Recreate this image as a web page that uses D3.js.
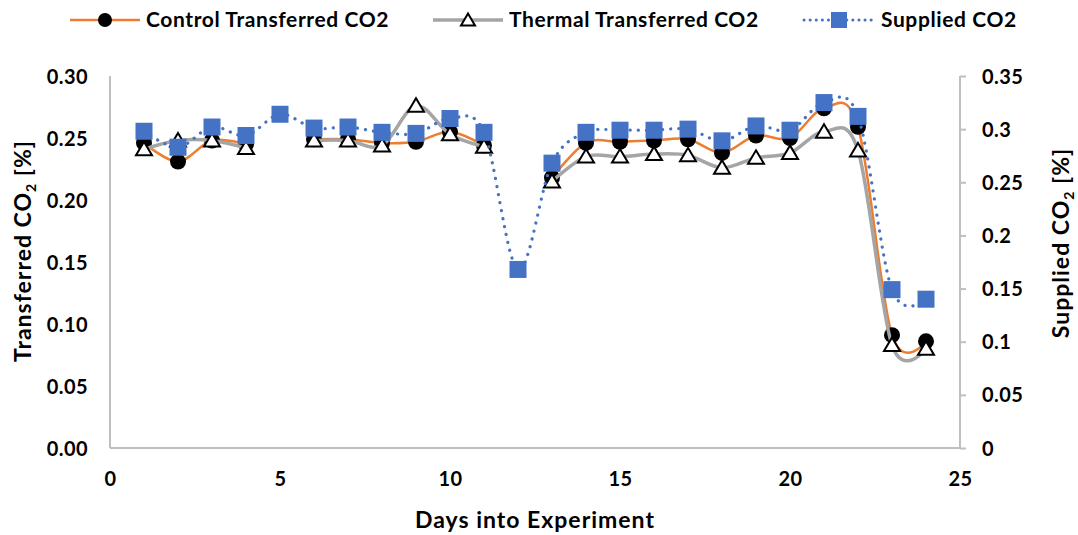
<!DOCTYPE html>
<html><head><meta charset="utf-8">
<script src="https://cdn.jsdelivr.net/npm/d3@7"></script>
<style>
body{margin:0;background:#fff;}
svg{display:block;font-family:Lato,"Open Sans",sans-serif;font-weight:bold;}
</style></head>
<body>
<svg id="c" width="1078" height="535"></svg>
<script>
const days = [1,2,3,4,5,6,7,8,9,10,11,12,13,14,15,16,17,18,19,20,21,22,23,24];
const controlCO2 = [0.246,0.231,0.248,0.245,null,0.249,0.249,0.246,0.247,0.255,0.244,null,0.218,0.246,0.247,0.248,0.249,0.238,0.252,0.250,0.274,0.259,0.091,0.086];
const thermalCO2 = [0.241,0.248,0.248,0.242,null,0.248,0.248,0.244,0.276,0.253,0.243,null,0.215,0.235,0.235,0.237,0.236,0.226,0.234,0.238,0.255,0.240,0.083,0.080];
const suppliedCO2 = [0.298,0.283,0.302,0.294,0.314,0.301,0.302,0.297,0.296,0.310,0.297,0.168,0.268,0.297,0.299,0.299,0.300,0.289,0.303,0.299,0.325,0.312,0.149,0.140];
const xTicks = [0,5,10,15,20,25];
const leftTicks = [0,0.05,0.10,0.15,0.20,0.25,0.30];
const rightTicks = [0,0.05,0.1,0.15,0.2,0.25,0.3,0.35];
const seriesNames = ["Control Transferred CO2","Thermal Transferred CO2","Supplied CO2"];

const svg = d3.select("#c");
const x = d3.scaleLinear().domain([0,25]).range([110,960]);
const yL = d3.scaleLinear().domain([0,0.30]).range([448,76]);
const yR = d3.scaleLinear().domain([0,0.35]).range([448,76]);
const axisColor = "#BFBFBF";
const orange = "#ED7D31", gray = "#A5A5A5", blue = "#4472C4";

// axes
const gL = svg.append("g").attr("transform","translate(110,0)")
  .call(d3.axisLeft(yL).tickValues(leftTicks).tickSize(0).tickPadding(22).tickFormat(d3.format(".2f")));
const gR = svg.append("g").attr("transform","translate(960,0)")
  .call(d3.axisRight(yR).tickValues(rightTicks).tickSize(6).tickPadding(16).tickFormat(d=>String(+d.toFixed(2))));
const gB = svg.append("g").attr("transform","translate(0,448)")
  .call(d3.axisBottom(x).tickValues(xTicks).tickSize(0).tickPadding(24).tickFormat(d3.format("d")));
[gL,gR,gB].forEach(g=>{
  g.selectAll("path.domain").attr("stroke",axisColor).attr("stroke-width",2);
  g.selectAll("line").attr("stroke",axisColor).attr("stroke-width",2);
  g.selectAll("text").attr("fill","#000").attr("font-size",20).attr("letter-spacing",0.4)
    .attr("font-family","Lato, 'Open Sans', sans-serif").attr("font-weight","bold");
});
gB.select("path.domain").attr("d","M110,0H960");
gL.select("path.domain").attr("d","M0,448V76");
gR.select("path.domain").attr("d","M0,448V76");
gR.selectAll("text").attr("dy","0.35em");
gL.selectAll("text").attr("dy","0.35em");

// axis titles
svg.append("text").attr("x",535).attr("y",528).attr("text-anchor","middle")
  .attr("font-size",23).attr("letter-spacing",1).text("Days into Experiment");
const tl = svg.append("text").attr("transform","translate(31,251) rotate(-90)").attr("text-anchor","middle").attr("font-size",23).attr("letter-spacing",1);
tl.append("tspan").text("Transferred CO");
tl.append("tspan").attr("font-size",14).attr("dy",5).text("2");
tl.append("tspan").attr("dy",-5).text(" [%]");
const tr = svg.append("text").attr("transform","translate(1069,243) rotate(-90)").attr("text-anchor","middle").attr("font-size",23).attr("letter-spacing",1);
tr.append("tspan").text("Supplied CO");
tr.append("tspan").attr("font-size",14).attr("dy",5).text("2");
tr.append("tspan").attr("dy",-5).text(" [%]");

const curve = d3.curveCatmullRom.alpha(0);
function pts(vals){ return days.map((d,i)=>({d, v: vals[i]})); }
const triPath = "M0,-7.5L8,6L-8,6Z";

// control
const cData = pts(controlCO2);
svg.append("path").datum(cData).attr("fill","none").attr("stroke",orange).attr("stroke-width",2.5)
  .attr("d", d3.line().defined(p=>p.v!=null).x(p=>x(p.d)).y(p=>yL(p.v)).curve(curve));
svg.append("g").selectAll("circle").data(cData.filter(p=>p.v!=null)).join("circle")
  .attr("cx",p=>x(p.d)).attr("cy",p=>yL(p.v)).attr("r",8).attr("fill","#000");

// thermal
const tData = pts(thermalCO2);
svg.append("path").datum(tData).attr("fill","none").attr("stroke",gray).attr("stroke-width",3.5)
  .attr("d", d3.line().defined(p=>p.v!=null).x(p=>x(p.d)).y(p=>yL(p.v)).curve(curve));
svg.append("g").selectAll("path").data(tData.filter(p=>p.v!=null)).join("path")
  .attr("transform",p=>`translate(${x(p.d)},${yL(p.v)})`).attr("d",triPath)
  .attr("fill","#fff").attr("stroke","#000").attr("stroke-width",2);

// supplied
const sData = pts(suppliedCO2);
svg.append("path").datum(sData).attr("fill","none").attr("stroke",blue).attr("stroke-width",3.2)
  .attr("stroke-dasharray","0.1 8").attr("stroke-linecap","round")
  .attr("d", d3.line().x(p=>x(p.d)).y(p=>yR(p.v)).curve(curve));
svg.append("g").selectAll("rect").data(sData).join("rect")
  .attr("x",p=>x(p.d)-8.5).attr("y",p=>yR(p.v)-8.5).attr("width",17).attr("height",17).attr("fill",blue);

// legend
const lg = svg.append("g");
const lx = [70,433,804], ty = 20;
lg.append("line").attr("x1",lx[0]).attr("x2",lx[0]+70).attr("y1",ty).attr("y2",ty).attr("stroke",orange).attr("stroke-width",2.5);
lg.append("circle").attr("cx",lx[0]+35).attr("cy",ty).attr("r",7).attr("fill","#000");
lg.append("line").attr("x1",lx[1]).attr("x2",lx[1]+70).attr("y1",ty).attr("y2",ty).attr("stroke",gray).attr("stroke-width",3.5);
lg.append("path").attr("transform",`translate(${lx[1]+35},${ty})`).attr("d","M0,-6.5L7,5.5L-7,5.5Z").attr("fill","#fff").attr("stroke","#000").attr("stroke-width",2);
lg.append("line").attr("x1",lx[2]).attr("x2",lx[2]+70).attr("y1",ty).attr("y2",ty).attr("stroke",blue).attr("stroke-width",3).attr("stroke-dasharray","0.1 6").attr("stroke-linecap","round");
lg.append("rect").attr("x",lx[2]+35-8).attr("y",ty-8).attr("width",16).attr("height",16).attr("fill",blue);
const tx = [146,509,881];
seriesNames.forEach((n,i)=>{
  lg.append("text").attr("x",tx[i]).attr("y",ty).attr("dy","0.35em").attr("font-size",21).attr("letter-spacing",0.6).text(n);
});
</script>
</body></html>
